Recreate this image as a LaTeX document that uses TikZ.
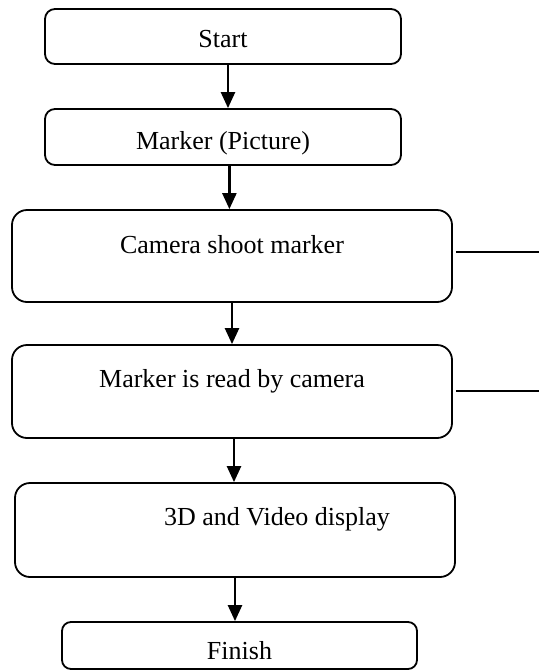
\documentclass[tikz,border=0pt]{standalone}
\usepackage{fontspec}
\setmainfont{Liberation Serif}
\usetikzlibrary{arrows.meta,positioning,calc}
\tikzset{
  stepbox/.style={
    rectangle, rounded corners=5pt, draw=black, line width=0.9pt,
    fill=white, inner sep=3pt, text centered,
    font=\fontsize{13}{16}\selectfont
  },
  bigbox/.style={
    stepbox, rounded corners=7.5pt,
    minimum width=220pt
  },
  arrow/.style={-{Triangle[width=7pt,length=8pt]}, line width=1.2pt, draw=black},
  sideline/.style={line width=0.9pt, draw=black}
}

\begin{document}
\begin{tikzpicture}[x=0.5pt, y=-0.5pt]
  \useasboundingbox (0,0) rectangle (539,670);

  % Main flow
  \node[stepbox, minimum width=178pt, minimum height=27.5pt,
        text height=10.5pt, text depth=0pt] (start) at (223,36.5) {Start};
  \node[stepbox, minimum width=178pt, minimum height=28pt,
        text height=12pt, text depth=0pt] (marker) at (223,137) {Marker (Picture)};
  \node[bigbox, minimum height=46pt,
        text height=9pt, text depth=12pt] (camera) at (232,256) {Camera shoot marker};
  \node[bigbox, minimum height=46.5pt,
        text height=9pt, text depth=13.5pt] (read) at (232,391.5) {Marker is read by camera};
  \node[bigbox, minimum height=47pt,
        text height=9pt, text depth=14pt] (display) at (235,530) {\hspace*{42pt}3D and Video display};
  \node[stepbox, rounded corners=4.5pt, minimum width=177.5pt, minimum height=23.5pt,
        text height=13.5pt, text depth=0pt] (finish) at (239.5,645.5) {Finish};

  % Arrows between steps
  \draw[arrow] ([xshift=2.5pt]start.south) -- ([xshift=2.5pt]start.south |- marker.north);
  \draw[arrow] ([xshift=3.2pt]marker.south) -- ([xshift=3.2pt]marker.south |- camera.north);
  \draw[arrow] ([xshift=0pt]camera.south) -- ([xshift=0pt]camera.south |- read.north);
  \draw[arrow] ([xshift=1pt]read.south) -- ([xshift=1pt]read.south |- display.north);
  \draw[arrow] ([xshift=0pt]display.south) -- ([xshift=0pt]display.south |- finish.north);

  % Lines going out to the right
  \coordinate (camout) at (539,252);
  \coordinate (readout) at (539,391);
  \draw[sideline, shorten <=1.5pt] (camout -| camera.east) -- (camout);
  \draw[sideline, shorten <=1.5pt] (readout -| read.east) -- (readout);

\end{tikzpicture}
\end{document}
